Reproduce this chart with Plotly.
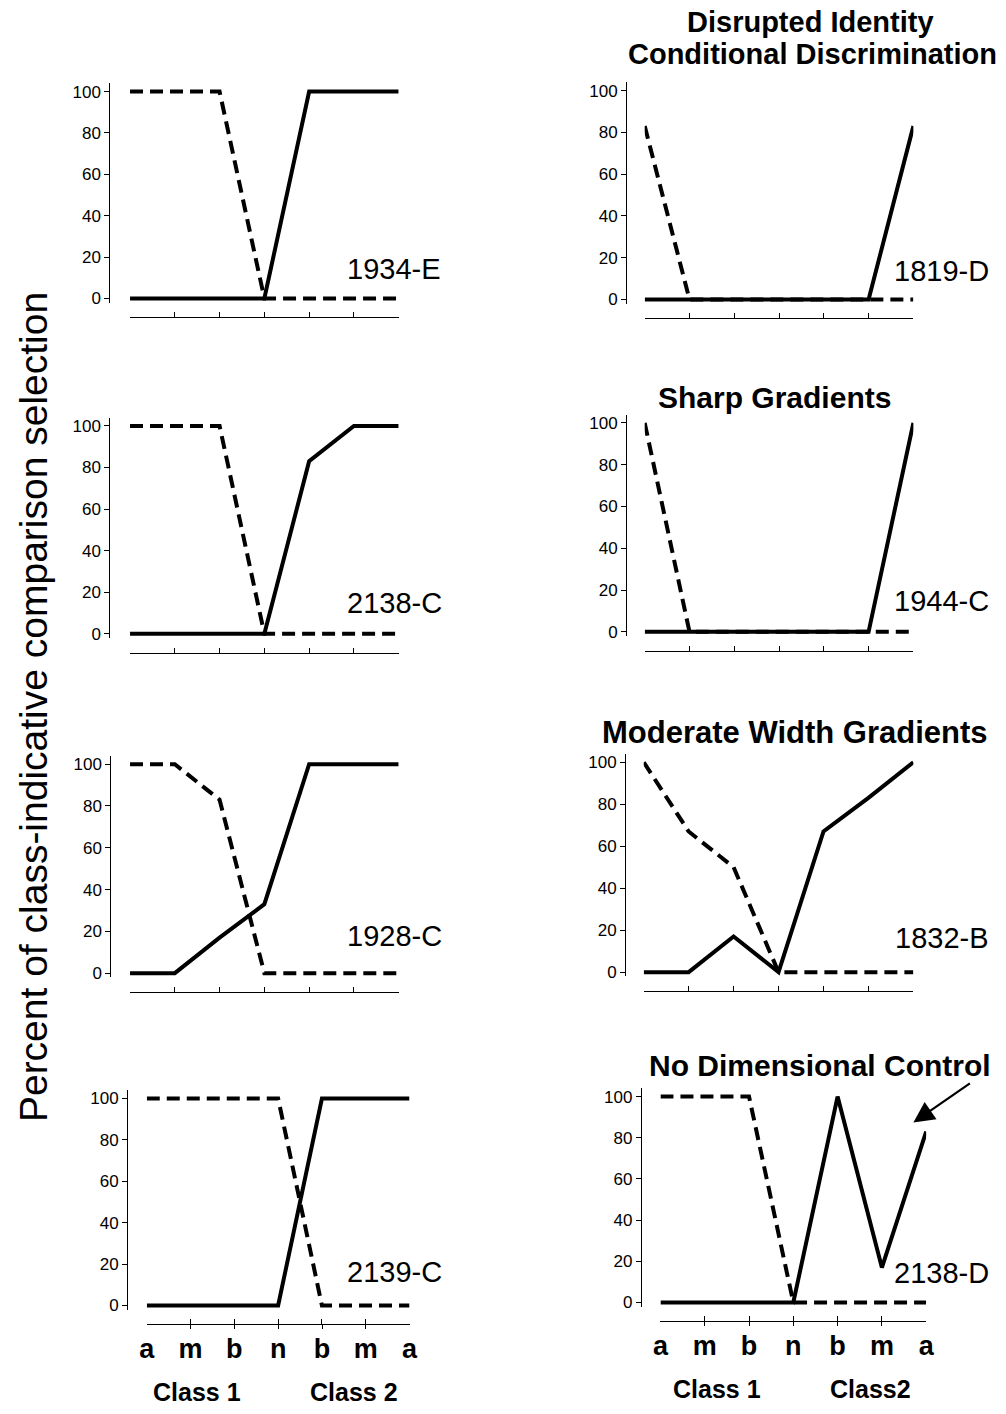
import plotly.graph_objects as go

# ---------------- data ----------------
categories = ["a", "m", "b", "n", "b", "m", "a"]
positions = [0, 1, 2, 3, 4, 5, 6]
y_ticks = [0, 20, 40, 60, 80, 100]

# dashed = Class 1 comparison selection, solid = Class 2 comparison selection
class1_1934E = [100, 100, 100, 0, 0, 0, 0]
class2_1934E = [0, 0, 0, 0, 100, 100, 100]
class1_2138C = [100, 100, 100, 0, 0, 0, 0]
class2_2138C = [0, 0, 0, 0, 83, 100, 100]
class1_1928C = [100, 100, 83, 0, 0, 0, 0]
class2_1928C = [0, 0, 17, 33, 100, 100, 100]
class1_2139C = [100, 100, 100, 100, 0, 0, 0]
class2_2139C = [0, 0, 0, 0, 100, 100, 100]
class1_1819D = [83, 0, 0, 0, 0, 0, 0]
class2_1819D = [0, 0, 0, 0, 0, 0, 83]
class1_1944C = [100, 0, 0, 0, 0, 0, 0]
class2_1944C = [0, 0, 0, 0, 0, 0, 100]
class1_1832B = [100, 67, 50, 0, 0, 0, 0]
class2_1832B = [0, 0, 17, 0, 67, 83, 100]
class1_2138D = [100, 100, 100, 0, 0, 0, 0]
class2_2138D = [0, 0, 0, 0, 100, 17, 83]

subject_labels = ["1934-E", "2138-C", "1928-C", "2139-C",
                  "1819-D", "1944-C", "1832-B", "2138-D"]
class1_series = [class1_1934E, class1_2138C, class1_1928C, class1_2139C,
                 class1_1819D, class1_1944C, class1_1832B, class1_2138D]
class2_series = [class2_1934E, class2_2138C, class2_1928C, class2_2139C,
                 class2_1819D, class2_1944C, class2_1832B, class2_2138D]

group_titles = ["Disrupted Identity", "Conditional Discrimination", "Sharp Gradients",
                "Moderate Width Gradients", "No Dimensional Control"]
y_title = "Percent of class-indicative comparison selection"

# ---------------- layout geometry (pixels) ----------------
W, H = 1006, 1414
FONT = "Liberation Sans, Arial, Helvetica, sans-serif"


def fx(px):
    return px / W


def fy(py):
    return 1 - py / H


# (x first tick, x last tick, y-axis line x, pixel of 100, pixel of 0, bottom row?, side)
geom = [
    (124, 397, 103, 91, 299, False, "L"),
    (124, 397, 103, 427, 636, False, "L"),
    (124, 397, 104, 767, 977, False, "L"),
    (141, 408, 121, 1103, 1311, True, "L"),
    (647, 920, 628, 90, 300, False, "R"),
    (647, 920, 628, 424, 634, False, "R"),
    (646, 920, 627, 765, 976, False, "R"),
    (663, 933, 643, 1101, 1308, True, "R"),
]
label_y = [269, 605, 940, 1277, 271, 603, 942, 1278]

YMIN, YMAX = -2, 104

fig = go.Figure()
layout = dict(
    width=W, height=H,
    margin=dict(l=0, r=0, t=0, b=0),
    paper_bgcolor="white", plot_bgcolor="white",
    showlegend=False,
    font=dict(family=FONT, color="black"),
)

annotations = []
for i, (x0, x1, yax, p100, p0, bottom, side) in enumerate(geom):
    n = i + 1
    ppu = (p0 - p100) / 100.0
    ydom = [fy(p0 - YMIN * ppu), fy(p100 - (YMAX - 100) * ppu)]
    xa = dict(
        domain=[fx(x0), fx(x1)], range=[0, 6],
        anchor="free", position=fy(p0 + 19),
        showline=True, linecolor="black", linewidth=1,
        ticks="inside", ticklen=5, tickwidth=1, tickcolor="black",
        tickmode="array", tickvals=positions, ticktext=categories,
        showticklabels=bottom,
        tickfont=dict(family=FONT, size=27, color="black", weight="bold"),
        showgrid=False, zeroline=False, fixedrange=True,
    )
    if bottom:
        xa["minor"] = dict(tickmode="array", tickvals=[p + 0.002 for p in positions],
                           ticks="outside", ticklen=4, tickwidth=1, tickcolor="black",
                           showgrid=False)
    ya = dict(
        domain=ydom, range=[YMIN, YMAX],
        anchor="free", position=fx(yax),
        showline=True, linecolor="black", linewidth=1,
        ticks="outside", ticklen=5, tickwidth=1, tickcolor="black",
        tickmode="array", tickvals=y_ticks,
        tickfont=dict(family=FONT, size=17, color="black"),
        showgrid=False, zeroline=False, fixedrange=True,
    )
    key = "" if n == 1 else str(n)
    layout["xaxis" + key] = xa
    layout["yaxis" + key] = ya

    fig.add_trace(go.Scatter(
        x=positions, y=class1_series[i], mode="lines",
        line=dict(color="black", width=4, dash="13px,7px"),
        xaxis="x" + key, yaxis="y" + key, hoverinfo="skip"))
    fig.add_trace(go.Scatter(
        x=positions, y=class2_series[i], mode="lines",
        line=dict(color="black", width=4),
        xaxis="x" + key, yaxis="y" + key, hoverinfo="skip"))

    # subject label
    if side == "L":
        annotations.append(dict(text=subject_labels[i], xref="paper", yref="paper",
                                x=fx(342), y=fy(label_y[i]), xanchor="left", yanchor="middle",
                                showarrow=False, font=dict(size=29, family=FONT)))
    else:
        annotations.append(dict(text=subject_labels[i], xref="paper", yref="paper",
                                x=fx(999), y=fy(label_y[i]), xanchor="right", yanchor="middle",
                                showarrow=False, font=dict(size=29, family=FONT)))

# group titles (x centre, y centre, font size)
title_pos = [(815, 21, 29), (818, 53, 29), (779, 398, 30), (800, 735, 31), (825, 1070, 30)]
for t, (tx, ty, fs) in zip(group_titles, title_pos):
    annotations.append(dict(text=t, xref="paper", yref="paper", x=fx(tx), y=fy(ty),
                            xanchor="center", yanchor="middle", showarrow=False,
                            font=dict(size=fs, family=FONT, weight="bold")))

# class labels
for t, (tx, ty) in zip(["Class 1", "Class 2", "Class 1", "Class2"],
                       [(192, 1398), (352, 1398), (720, 1395), (876, 1395)]):
    annotations.append(dict(text=t, xref="paper", yref="paper", x=fx(tx), y=fy(ty),
                            xanchor="center", yanchor="middle", showarrow=False,
                            font=dict(size=25, family=FONT, weight="bold")))

# y-axis title
annotations.append(dict(text=y_title, xref="paper", yref="paper", x=fx(26), y=fy(710),
                        xanchor="center", yanchor="middle", textangle=-90, showarrow=False,
                        font=dict(size=39, family=FONT)))

# arrow in "No Dimensional Control"
annotations.append(dict(text="", xref="paper", yref="paper", x=fx(920), y=fy(1127),
                        ax=58, ay=-40, showarrow=True, arrowhead=2, arrowsize=1.9,
                        arrowwidth=2.2, arrowcolor="black", standoff=0))

layout["annotations"] = annotations
fig.update_layout(**layout)

fig.write_html("out.html", config={"displayModeBar": False, "staticPlot": True},
               post_script="document.body.style.margin='0';")
